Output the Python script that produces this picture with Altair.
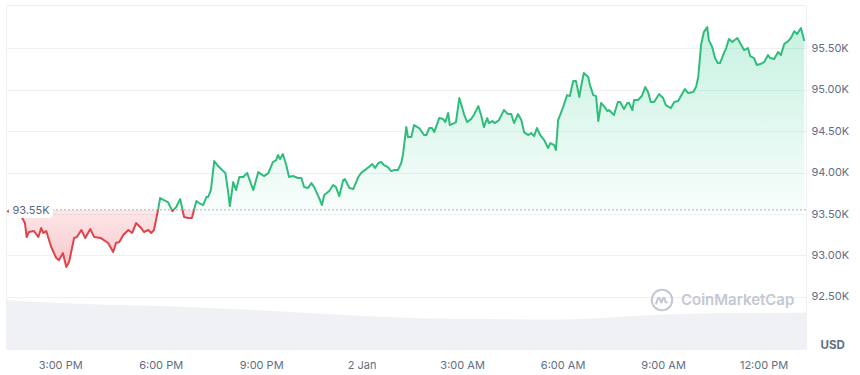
import altair as alt
import pandas as pd

# ---- data (time = minutes after 00:00, 1 Jan) ----
t_min = [805, 819, 830, 837, 840, 844, 853, 861, 866, 870, 875, 884, 893, 898, 905, 911, 916, 925, 930, 938,
         945, 954, 961, 973, 986, 995, 1000, 1006, 1013, 1022, 1029, 1036, 1045, 1050, 1058, 1063, 1068, 1076,
         1079, 1086, 1093, 1101, 1108, 1115, 1122, 1129, 1136, 1144, 1149, 1156, 1162, 1165, 1170, 1176, 1183,
         1192, 1196, 1201, 1204, 1210, 1215, 1221, 1228, 1235, 1246, 1255, 1260, 1265, 1273, 1281, 1287, 1290,
         1294, 1299, 1305, 1310, 1317, 1326, 1332, 1337, 1344, 1350, 1355, 1364, 1369, 1373, 1382, 1389, 1394,
         1400, 1407, 1410, 1418, 1425, 1434, 1439, 1448, 1453, 1459, 1464, 1470, 1475, 1480, 1487, 1493, 1498,
         1505, 1511, 1514, 1520, 1523, 1529, 1534, 1543, 1552, 1556, 1561, 1566, 1570, 1579, 1586, 1590, 1595,
         1598, 1606, 1609, 1615, 1624, 1629, 1636, 1641, 1649, 1654, 1659, 1665, 1668, 1674, 1679, 1686, 1695,
         1702, 1708, 1713, 1720, 1726, 1731, 1738, 1744, 1749, 1754, 1760, 1767, 1774, 1778, 1785, 1788, 1792,
         1801, 1808, 1813, 1819, 1824, 1830, 1833, 1838, 1846, 1849, 1855, 1860, 1864, 1869, 1874, 1880, 1883,
         1892, 1899, 1903, 1910, 1916, 1919, 1925, 1928, 1935, 1942, 1948, 1953, 1958, 1964, 1973, 1980, 1985,
         1994, 2000, 2007, 2016, 2019, 2025, 2034, 2039, 2043, 2048, 2053, 2059, 2062, 2068, 2073, 2078, 2082,
         2089, 2093, 2098, 2104, 2113, 2120, 2125, 2132, 2136, 2143, 2148, 2154, 2161, 2168, 2172, 2179, 2186,
         2191, 2197, 2204, 2209, 2215, 2220, 2227, 2233]
price = [93536, 93500, 93476, 93391, 93222, 93283, 93295, 93222, 93331, 93271, 93295, 93102, 92969, 92944, 93029,
         92860, 92920, 93210, 93222, 93307, 93210, 93319, 93222, 93210, 93150, 93041, 93150, 93162, 93246, 93307,
         93271, 93391, 93331, 93283, 93307, 93271, 93307, 93572, 93693, 93669, 93645, 93536, 93585, 93681, 93464,
         93452, 93452, 93657, 93633, 93609, 93705, 93705, 93790, 94140, 94080, 94019, 93995, 93766, 93597, 93886,
         93790, 93947, 93947, 93995, 93790, 94007, 93983, 93959, 93995, 94128, 94152, 94213, 94164, 94225, 94092,
         93947, 93959, 93935, 93935, 93826, 93814, 93874, 93826, 93693, 93609, 93729, 93778, 93850, 93826, 93717,
         93911, 93923, 93814, 93802, 93947, 93995, 94043, 94068, 94104, 94056, 94116, 94128, 94092, 94068, 94019,
         94031, 94031, 94116, 94213, 94551, 94430, 94430, 94575, 94539, 94454, 94454, 94539, 94539, 94490, 94659,
         94647, 94611, 94720, 94575, 94599, 94611, 94901, 94696, 94611, 94647, 94696, 94804, 94696, 94551, 94659,
         94599, 94623, 94599, 94635, 94756, 94708, 94708, 94599, 94708, 94635, 94490, 94454, 94478, 94442, 94539,
         94454, 94394, 94297, 94357, 94333, 94273, 94635, 94792, 94937, 94925, 95106, 95106, 94913, 95034, 95203,
         95155, 95058, 94937, 94925, 94623, 94841, 94804, 94744, 94756, 94696, 94853, 94853, 94768, 94841, 94841,
         94756, 94877, 94877, 94925, 95034, 94973, 94853, 94853, 94949, 94901, 94816, 94780, 94853, 94865, 94973,
         95010, 94961, 94973, 95034, 95155, 95541, 95698, 95758, 95601, 95517, 95384, 95324, 95324, 95444, 95505,
         95614, 95577, 95626, 95541, 95481, 95505, 95408, 95384, 95300, 95312, 95336, 95420, 95384, 95372, 95457,
         95420, 95553, 95589, 95626, 95710, 95674, 95746, 95589]

base_price = 93550          # reference price shown as "93.55K"

vol_t = [803, 970, 1150, 1330, 1560, 1800, 1980, 2236]
vol = [14.2, 12.9, 12.1, 10.6, 8.9, 8.6, 10.0, 10.6]

x_tick_vals = [900, 1080, 1260, 1440, 1620, 1800, 1980, 2160]
x_tick_labels = ["3:00 PM", "6:00 PM", "9:00 PM", "2 Jan", "3:00 AM", "6:00 AM", "9:00 AM", "12:00 PM"]
y_tick_vals = [92500, 93000, 93500, 94000, 94500, 95000, 95500]

x_domain = [803, 2236]
y_domain = [91870, 96025]

GREEN = "#2fbd7c"
RED = "#e0434b"
FONT = "Inter"
LABEL = "#616e85"
WM = "#c3c9d2"

df = pd.DataFrame({"t": t_min, "price": price})
df["base"] = base_price
vdf = pd.DataFrame({"t": vol_t, "vol": vol})

pmax, pmin = max(price), min(price)
off = (pmax - base_price) / (pmax - pmin)

label_expr = ""
for v, l in zip(x_tick_vals, x_tick_labels):
    label_expr += f"datum.value == {v} ? '{l}' : "
label_expr += "''"

x_scale = alt.Scale(domain=x_domain, nice=False, zero=False)
y_scale = alt.Scale(domain=y_domain, nice=False, zero=False)

x_enc = alt.X("t:Q", scale=x_scale,
              axis=alt.Axis(values=x_tick_vals, labelExpr=label_expr, grid=False, domain=False,
                            ticks=False, labelPadding=10, labelColor=LABEL, labelFontSize=11,
                            labelFont=FONT, title=None, labelFlush=False))

vol_layer = alt.Chart(vdf).mark_area(color="#eff1f4", interpolate="monotone").encode(
    x=x_enc,
    y=alt.Y("vol:Q", scale=alt.Scale(domain=[0, 100]), axis=None),
)

y_axis = alt.Axis(values=y_tick_vals, orient="right", labelExpr="format(datum.value / 1000, '.2f') + 'K'",
                  domain=False, ticks=False, grid=True, gridColor="#eef0f3", labelPadding=5,
                  labelColor=LABEL, labelFontSize=11, labelFont=FONT,
                  title="USD", titleAngle=0, titleAlign="left", titleBaseline="middle",
                  titleX=14, titleY=340, titleFontSize=11.5, titleFontWeight="bold",
                  titleColor=LABEL, titleFont=FONT)

fill_grad = alt.Gradient(gradient="linear", x1=0, x2=0, y1=0, y2=1, stops=[
    alt.GradientStop(offset=0, color="rgba(22,199,132,0.24)"),
    alt.GradientStop(offset=off, color="rgba(22,199,132,0.03)"),
    alt.GradientStop(offset=off, color="rgba(234,57,67,0.12)"),
    alt.GradientStop(offset=1, color="rgba(234,57,67,0.28)"),
])
line_grad = alt.Gradient(gradient="linear", x1=0, x2=0, y1=0, y2=1, stops=[
    alt.GradientStop(offset=0, color=GREEN),
    alt.GradientStop(offset=off, color=GREEN),
    alt.GradientStop(offset=off, color=RED),
    alt.GradientStop(offset=1, color=RED),
])

base = alt.Chart(df)
area = base.mark_area(fill=fill_grad, line=False).encode(
    x=x_enc, y=alt.Y("price:Q", scale=y_scale, axis=y_axis), y2="base:Q")
line = base.mark_line(stroke=line_grad, strokeWidth=2, strokeJoin="round").encode(
    x=x_enc, y=alt.Y("price:Q", scale=y_scale))

ref = pd.DataFrame({"p": [base_price], "lab": ["93.55K"]})
rule = alt.Chart(ref).mark_rule(color="#a6b0c3", strokeDash=[2, 2], strokeWidth=1).encode(
    y=alt.Y("p:Q", scale=y_scale))
box = alt.Chart(ref).mark_rect(fill="white", cornerRadius=4, yOffset=-8, y2Offset=8).encode(
    x=alt.value(3), x2=alt.value(47), y=alt.Y("p:Q", scale=y_scale), y2="p:Q")
box_text = alt.Chart(ref).mark_text(font=FONT, fontSize=11, color="#58667e", align="center",
                                    baseline="middle", dy=1).encode(
    x=alt.value(25), y=alt.Y("p:Q", scale=y_scale), text="lab:N")

wm = pd.DataFrame({"name": ["CoinMarketCap"]})
wm_text = alt.Chart(wm).mark_text(font=FONT, fontSize=15, fontWeight=600, color=WM,
                                  align="left", baseline="middle").encode(
    x=alt.value(675), y=alt.value(295), text="name:N")
wm_ring = alt.Chart(wm).mark_point(shape="circle", size=420, filled=False, color=WM,
                                   strokeWidth=2, opacity=1).encode(x=alt.value(656), y=alt.value(295))
wm_m = alt.Chart(wm).mark_point(
    shape="M-0.75,0.55 L-0.5,-0.15 Q-0.3,-0.6 -0.12,-0.1 L0,0.3 Q0.1,0.5 0.18,0.2 L0.28,-0.15 "
          "Q0.45,-0.6 0.6,-0.1 L0.68,0.25 Q0.75,0.45 0.9,0.35",
    size=170, filled=False, color=WM, strokeWidth=2, opacity=1, strokeCap="round", strokeJoin="round"
).encode(x=alt.value(655), y=alt.value(295))

price_layers = alt.layer(area, rule, line, box, box_text, wm_ring, wm_m, wm_text)

chart = alt.layer(vol_layer, price_layers).resolve_scale(y="independent").properties(
    width=800, height=344, padding={"left": 5, "top": 5, "right": 0, "bottom": 0},
    background="white",
).configure_view(stroke="#eef0f3", strokeWidth=1)

chart.save("out.html", embed_options={"renderer": "svg", "actions": False})
